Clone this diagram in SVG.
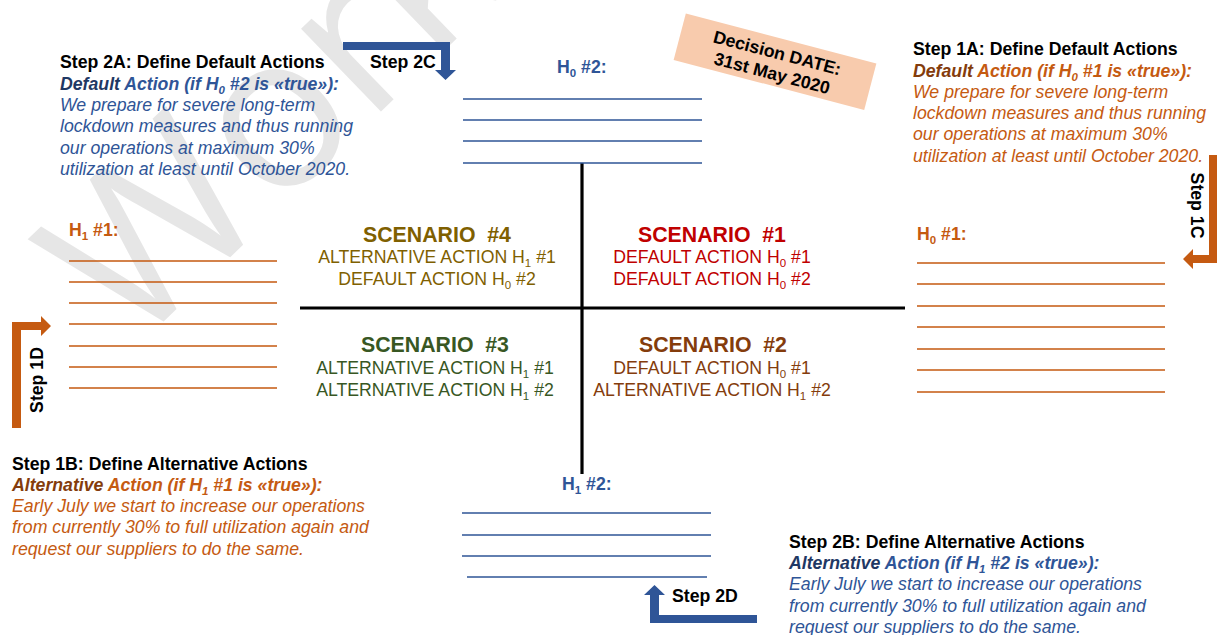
<svg xmlns="http://www.w3.org/2000/svg" width="1219" height="635" viewBox="0 0 1219 635">
  <style>
    .t{font-family:"Liberation Sans",Arial,sans-serif;font-size:17.7px}
    .b{font-weight:bold}
    .i{font-style:italic}
    .k{fill:#000}
    .sub{font-size:11.5px}
    .ttl{font-family:"Liberation Sans",Arial,sans-serif;font-size:21.3px;font-weight:bold;white-space:pre}
    .mid{text-anchor:middle}
    .or{fill:#C55A11}
    .orD{fill:#843C0C}
    .bl{fill:#2F5597}
    .blD{fill:#1F3864}
    .lnO{stroke:#C55A11;stroke-width:1.6;fill:none}
    .lnB{stroke:#2F5597;stroke-width:1.6;fill:none}
    .axis{stroke:#000;stroke-width:3.2;fill:none}
    .arrO{fill:#C55A11}
    .arrB{fill:#2F5597}
  </style>

  <rect width="1219" height="635" fill="#fff"/>

  <!-- background watermark -->
  <text transform="translate(132,352) rotate(-44)" font-family="Open Sans, sans-serif" font-size="215" fill="#e6e6e6">Work</text>

  <!-- quadrant axes and step arrows -->
  <g id="connectors">
    <line class="axis" x1="582" y1="163" x2="582" y2="474"/>
    <line class="axis" x1="300" y1="308" x2="905" y2="308"/>
    <path id="arrow-2c" class="arrB" d="M343,42 H450 V70 H456 L445.5,80 L435,70 H441 V50 H343 Z"/>
    <path id="arrow-1c" class="arrO" d="M1209,155 H1217 V263 H1193 V269 L1183,259 L1193,249 V255 H1209 Z"/>
    <path id="arrow-1d" class="arrO" d="M12,428 V322 H41 V316 L51,326 L41,336 V330 H21 V428 Z"/>
    <path id="arrow-2d" class="arrB" d="M757,623 H650 V595 H644 L654.5,585 L665,595 H659 V615 H757 Z"/>
  </g>

  <!-- step labels on the arrows -->
  <g id="step-labels">
    <text class="t b k" x="370" y="68">Step 2C</text>
    <text class="t b k" x="672" y="602">Step 2D</text>
    <text class="t b k mid" transform="translate(1191,205.5) rotate(90)">Step 1C</text>
    <text class="t b k mid" transform="translate(43,380) rotate(-90)">Step 1D</text>
  </g>

  <!-- decision date tag -->
  <g id="decision-date" transform="translate(775,61.7) rotate(14.7)">
    <rect x="-98.5" y="-24" width="197" height="48" fill="#F8CBAD"/>
    <text class="t b k mid" x="0" y="-3">Decision DATE:</text>
    <text class="t b k mid" x="0" y="18">31st May 2020</text>
  </g>

  <!-- step 2A -->
  <g id="step-2a">
    <text class="t b k" x="60" y="68">Step 2A: Define Default Actions</text>
    <text class="t b i" x="60" y="90"><tspan class="blD">Default</tspan><tspan class="bl"> Action (if H</tspan><tspan class="bl sub" dy="4">0</tspan><tspan class="bl" dy="-4"> #2 is «true»):</tspan></text>
    <text class="t i bl" x="60" y="111">We prepare for severe long-term</text>
    <text class="t i bl" x="60" y="132">lockdown measures and thus running</text>
    <text class="t i bl" x="60" y="154">our operations at maximum 30%</text>
    <text class="t i bl" x="60" y="175">utilization at least until October 2020.</text>
  </g>

  <!-- step 1A -->
  <g id="step-1a">
    <text class="t b k" x="913" y="55">Step 1A: Define Default Actions</text>
    <text class="t b i" x="913" y="77"><tspan class="orD">Default</tspan><tspan class="or"> Action (if H</tspan><tspan class="or sub" dy="4">0</tspan><tspan class="or" dy="-4"> #1 is «true»):</tspan></text>
    <text class="t i or" x="913" y="98">We prepare for severe long-term</text>
    <text class="t i or" x="913" y="119">lockdown measures and thus running</text>
    <text class="t i or" x="913" y="140">our operations at maximum 30%</text>
    <text class="t i or" x="913" y="162">utilization at least until October 2020.</text>
  </g>

  <!-- step 1B -->
  <g id="step-1b">
    <text class="t b k" x="12" y="470">Step 1B: Define Alternative Actions</text>
    <text class="t b i" x="12" y="491"><tspan class="orD">Alternative</tspan><tspan class="or"> Action (if H</tspan><tspan class="or sub" dy="4">1</tspan><tspan class="or" dy="-4"> #1 is «true»):</tspan></text>
    <text class="t i or" x="12" y="512">Early July we start to increase our operations</text>
    <text class="t i or" x="12" y="533">from currently 30% to full utilization again and</text>
    <text class="t i or" x="12" y="555">request our suppliers to do the same.</text>
  </g>

  <!-- step 2B -->
  <g id="step-2b">
    <text class="t b k" x="789" y="548">Step 2B: Define Alternative Actions</text>
    <text class="t b i" x="789" y="569"><tspan class="blD">Alternative</tspan><tspan class="bl"> Action (if H</tspan><tspan class="bl sub" dy="4">1</tspan><tspan class="bl" dy="-4"> #2 is «true»):</tspan></text>
    <text class="t i bl" x="789" y="590">Early July we start to increase our operations</text>
    <text class="t i bl" x="789" y="612">from currently 30% to full utilization again and</text>
    <text class="t i bl" x="789" y="633">request our suppliers to do the same.</text>
  </g>

  <!-- hypothesis H0 #2 (top) -->
  <g id="h0-2">
    <text class="t b bl" x="557" y="73">H<tspan class="sub" dy="4">0</tspan><tspan dy="-4"> #2:</tspan></text>
    <path class="lnB" d="M463,99 H702 M463,120 H702 M463,141 H702 M463,163 H702"/>
  </g>

  <!-- hypothesis H0 #1 (right) -->
  <g id="h0-1">
    <text class="t b or" x="917" y="240">H<tspan class="sub" dy="4">0</tspan><tspan dy="-4"> #1:</tspan></text>
    <path class="lnO" d="M917,263 H1165 M917,284 H1165 M917,306 H1165 M917,327 H1165 M917,349 H1165 M917,370 H1165 M917,392 H1165"/>
  </g>

  <!-- hypothesis H1 #1 (left) -->
  <g id="h1-1">
    <text class="t b or" x="69" y="236">H<tspan class="sub" dy="4">1</tspan><tspan dy="-4"> #1:</tspan></text>
    <path class="lnO" d="M69,261 H277 M69,282 H277 M69,303 H277 M69,324 H277 M69,346 H277 M69,367 H277 M69,388 H277"/>
  </g>

  <!-- hypothesis H1 #2 (bottom) -->
  <g id="h1-2">
    <text class="t b bl" x="562" y="490">H<tspan class="sub" dy="4">1</tspan><tspan dy="-4"> #2:</tspan></text>
    <path class="lnB" d="M462,513 H711 M462,535 H711 M462,556 H711 M467,577 H707"/>
  </g>

  <!-- scenario quadrants -->
  <g id="scenario-4" fill="#7F6000">
    <text class="ttl mid" x="437" y="242">SCENARIO  #4</text>
    <text class="t mid" x="437" y="263">ALTERNATIVE ACTION H<tspan class="sub" dy="4">1</tspan><tspan dy="-4"> #1</tspan></text>
    <text class="t mid" x="437" y="285">DEFAULT ACTION H<tspan class="sub" dy="4">0</tspan><tspan dy="-4"> #2</tspan></text>
  </g>
  <g id="scenario-1" fill="#C00000">
    <text class="ttl mid" x="712" y="242">SCENARIO  #1</text>
    <text class="t mid" x="712" y="263">DEFAULT ACTION H<tspan class="sub" dy="4">0</tspan><tspan dy="-4"> #1</tspan></text>
    <text class="t mid" x="712" y="285">DEFAULT ACTION H<tspan class="sub" dy="4">0</tspan><tspan dy="-4"> #2</tspan></text>
  </g>
  <g id="scenario-3" fill="#385723">
    <text class="ttl mid" x="435" y="352">SCENARIO  #3</text>
    <text class="t mid" x="435" y="374">ALTERNATIVE ACTION H<tspan class="sub" dy="4">1</tspan><tspan dy="-4"> #1</tspan></text>
    <text class="t mid" x="435" y="396">ALTERNATIVE ACTION H<tspan class="sub" dy="4">1</tspan><tspan dy="-4"> #2</tspan></text>
  </g>
  <g id="scenario-2" fill="#843C0C">
    <text class="ttl mid" x="713" y="352">SCENARIO  #2</text>
    <text class="t mid" x="712" y="374">DEFAULT ACTION H<tspan class="sub" dy="4">0</tspan><tspan dy="-4"> #1</tspan></text>
    <text class="t mid" x="712" y="396">ALTERNATIVE ACTION H<tspan class="sub" dy="4">1</tspan><tspan dy="-4"> #2</tspan></text>
  </g>
</svg>
